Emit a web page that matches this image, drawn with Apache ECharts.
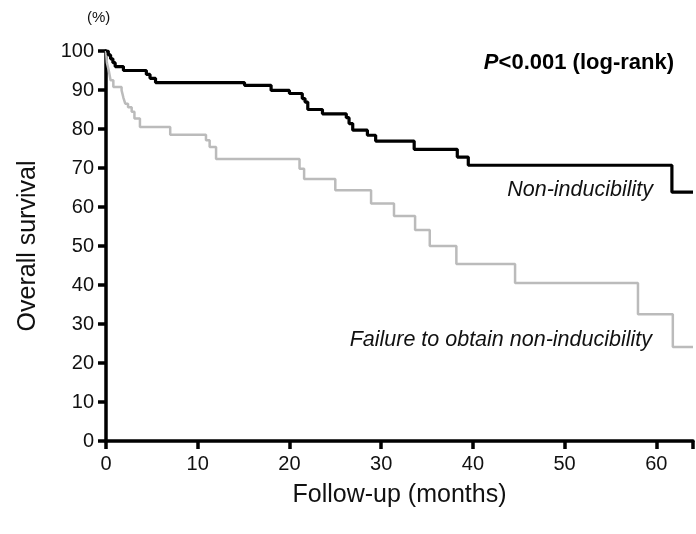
<!DOCTYPE html>
<html>
<head>
<meta charset="utf-8">
<script src="https://cdn.jsdelivr.net/npm/echarts@6/dist/echarts.min.js"></script>
<style>
  html, body { margin: 0; padding: 0; background: #fff; }
  #main { width: 696px; height: 534px; }
</style>
</head>
<body>
<div id="main"></div>
<script>
// follow-up months and survival (%) at each step
var nonIndMonths = [0, 0.25, 0.5, 0.75, 1.0, 1.9, 4.4, 4.8, 5.4, 15.1, 18.0, 20.0, 21.4, 21.7, 22.0, 23.6, 26.2, 26.5, 26.9, 28.5, 29.4, 33.6, 38.3, 39.5, 61.7, 64];
var nonIndSurv   = [100, 99, 98, 97, 96, 95, 94, 93, 91.9, 91.2, 89.9, 89.1, 87.8, 86.9, 85.0, 83.9, 82.9, 81.4, 79.7, 78.4, 76.9, 74.8, 72.8, 70.7, 63.8, 63.8];

var failMonths = [0, 0.1, 0.3, 0.5, 0.8, 1.7, 1.9, 2.1, 2.4, 2.8, 3.1, 3.7, 7.0, 10.9, 11.3, 12.0, 21.1, 21.6, 25.0, 28.9, 31.4, 33.7, 35.3, 38.2, 44.6, 58.0, 61.8, 64];
var failSurv   = [100, 97, 95, 92.5, 90.8, 89.9, 88, 86.5, 85.6, 84.4, 82.7, 80.5, 78.5, 77.1, 75.4, 72.3, 69.8, 67.2, 64.3, 60.9, 57.7, 54.1, 50.0, 45.4, 40.5, 32.5, 24.1, 24.1];

var xTicks = [0, 10, 20, 30, 40, 50, 60];
var yTicks = [0, 10, 20, 30, 40, 50, 60, 70, 80, 90, 100];

function pairs(xs, ys) {
    var out = [];
    for (var i = 0; i < xs.length; i++) out.push([xs[i], ys[i]]);
    return out;
}

var font = 'Liberation Sans, Arial, Helvetica, sans-serif';
var chart = echarts.init(document.getElementById('main'));

var option = {
    animation: false,
    grid: { left: 106, top: 51, right: 1, bottom: 93 },
    xAxis: {
        type: 'value',
        min: 0,
        max: 64,
        interval: 10,
        name: 'Follow-up (months)',
        nameLocation: 'middle',
        nameGap: 42,
        nameTextStyle: { fontFamily: font, fontSize: 25, color: '#111' },
        splitLine: { show: false },
        axisLine: { lineStyle: { color: '#000', width: 3.5 } },
        axisTick: { length: 8, lineStyle: { color: '#000', width: 3.5 } },
        axisLabel: {
            margin: 13, fontFamily: font, fontSize: 20, color: '#111',
            formatter: function (v) { return xTicks.indexOf(v) >= 0 ? String(v) : ''; }
        }
    },
    yAxis: {
        type: 'value',
        min: 0,
        max: 100,
        interval: 10,
        name: 'Overall survival',
        nameLocation: 'middle',
        nameGap: 65,
        nameRotate: 90,
        nameTextStyle: { fontFamily: font, fontSize: 25, color: '#111' },
        splitLine: { show: false },
        axisLine: { lineStyle: { color: '#000', width: 3.5 } },
        axisTick: { length: 8, lineStyle: { color: '#000', width: 3.5 } },
        axisLabel: {
            margin: 12, fontFamily: font, fontSize: 20, color: '#111',
            formatter: function (v) { return yTicks.indexOf(v) >= 0 ? String(v) : ''; }
        }
    },
    series: [
        {
            name: 'Failure to obtain non-inducibility',
            type: 'line',
            step: 'end',
            symbol: 'none',
            lineStyle: { color: '#bbbbbb', width: 2.5 },
            data: pairs(failMonths, failSurv),
            z: 2
        },
        {
            name: 'Non-inducibility',
            type: 'line',
            step: 'end',
            symbol: 'none',
            lineStyle: { color: '#000', width: 3.2 },
            data: pairs(nonIndMonths, nonIndSurv),
            z: 3
        }
    ],
    graphic: [
        {
            type: 'text', left: 87, top: 10,
            style: { text: '(%)', fontFamily: font, fontSize: 15, fill: '#111' }
        },
        {
            type: 'text', right: 22, top: 52,
            style: {
                text: '{i|P}<0.001 (log-rank)',
                fontFamily: font, fontSize: 22, fontWeight: 'bold', fill: '#000',
                rich: { i: { fontFamily: font, fontSize: 22, fontWeight: 'bold', fontStyle: 'italic' } }
            }
        },
        {
            type: 'text', right: 43, top: 179,
            style: { text: 'Non-inducibility', fontFamily: font, fontSize: 21.5, fontStyle: 'italic', fill: '#111' }
        },
        {
            type: 'text', right: 44, top: 329,
            style: { text: 'Failure to obtain non-inducibility', fontFamily: font, fontSize: 21.5, fontStyle: 'italic', fill: '#111' }
        }
    ]
};

chart.setOption(option);
</script>
</body>
</html>
